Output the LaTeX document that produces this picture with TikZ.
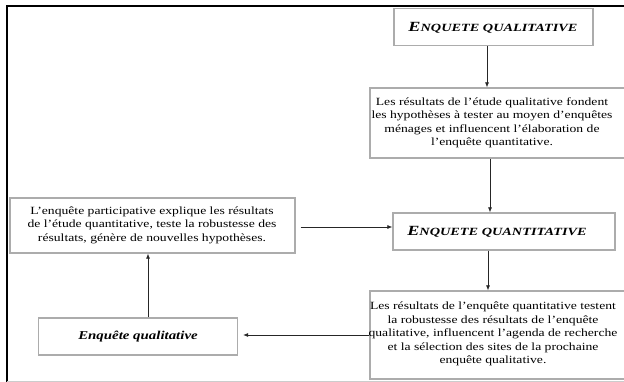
\documentclass[tikz,border=0pt]{standalone}
\usepackage{fontspec}
\setmainfont[Ligatures=TeX]{Liberation Serif}
\newfontfamily\widefont[Ligatures=TeX,FakeStretch=1.24]{Liberation Serif}
\newfontfamily\widetitle[Ligatures=TeX,FakeStretch=1.3]{Liberation Serif}
\usetikzlibrary{arrows.meta}
\tikzset{
  boxstyle/.style={draw=gray!65, line width=1.3pt, fill=white, inner sep=0pt, align=center},
  txt/.style={font=\widefont\fontsize{11}{13.5}\selectfont, align=center, inner sep=0pt},
  conn/.style={draw=black!85, line width=0.7pt, -{Latex[length=5pt,width=4pt]}},
}
\newcommand{\titlecaps}[2]{\widetitle\bfseries\itshape{\fontsize{14}{15}\selectfont #1}{\fontsize{11}{15}\selectfont #2}}
\begin{document}
\begin{tikzpicture}[x=1pt,y=-1pt]
\useasboundingbox (0,0) rectangle (624,382);
% outer frame
\draw[line width=2pt] (7,382) -- (7,6) -- (624,6);
\draw[gray!40, line width=1pt] (7,381) -- (624,381);
% boxes
\node[boxstyle, minimum width=199, minimum height=37] (b1) at (493.5,27) {};
\node[txt] (t1) at (493,28) {\titlecaps{E}{NQUETE QUALITATIVE}};
\node[boxstyle, minimum width=258, minimum height=70] (b2) at (499,123) {};
\node[txt] (t2) at (492,123) {Les résultats de l’étude qualitative fondent\\les hypothèses à tester au moyen d’enquêtes\\ménages et influencent l’élaboration de\\l’enquête quantitative.};
\node[boxstyle, minimum width=222, minimum height=37] (b3) at (504,231.5) {};
\node[txt] (t3) at (497,232) {\titlecaps{E}{NQUETE QUANTITATIVE}};
\node[boxstyle, minimum width=285, minimum height=55] (b4) at (152.5,225.5) {};
\node[txt] (t4) at (152,225) {L’enquête participative explique les résultats\\de l’étude quantitative, teste la robustesse des\\résultats, génère de nouvelles hypothèses.};
\node[boxstyle, minimum width=258, minimum height=88] (b5) at (499,335) {};
\node[txt] (t5) at (493,334) {Les résultats de l’enquête quantitative testent\\la robustesse des résultats de l’enquête\\qualitative, influencent l’agenda de recherche\\et la sélection des sites de la prochaine\\enquête qualitative.};
\node[boxstyle, minimum width=199, minimum height=37] (b6) at (138,336.5) {};
\node[txt] (t6) at (138,337) {\fontsize{12}{13}\selectfont\bfseries\itshape Enquête qualitative};
% connectors
\draw[conn] (b1.south -| 487,0) -- (b2.north -| 487,0);
\draw[conn] (b2.south -| 490,0) -- (b3.north -| 490,0);
\draw[conn] (b3.south -| 488,0) -- (b5.north -| 488,0);
\draw[conn] ([xshift=5pt]b4.east |- 0,227) -- (b3.west |- 0,227);
\draw[conn] (b5.west |- 0,335) -- ([xshift=5pt]b6.east |- 0,335);
\draw[conn] (b6.north -| 148,0) -- (b4.south -| 148,0);
\end{tikzpicture}
\end{document}
